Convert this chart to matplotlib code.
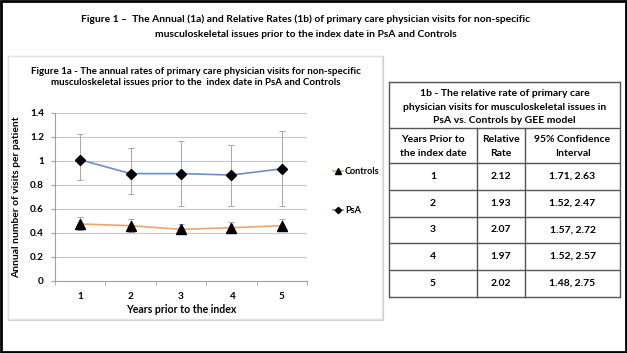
import matplotlib
matplotlib.use("Agg")
import matplotlib.pyplot as plt
from matplotlib.patches import Rectangle

plt.rcParams['font.family'] = ['Lato', 'DejaVu Sans']

# ---- data ----
years = [1, 2, 3, 4, 5]
psa = [1.01, 0.895, 0.895, 0.883, 0.935]
psa_hi = [1.225, 1.108, 1.163, 1.130, 1.252]
psa_lo = [0.840, 0.725, 0.625, 0.625, 0.628]
ctrl = [0.475, 0.461, 0.430, 0.444, 0.461]
ctrl_hi = [0.531, 0.520, 0.478, 0.494, 0.517]
ctrl_lo = [0.427, 0.405, 0.388, 0.397, 0.416]
yticks = [0, 0.2, 0.4, 0.6, 0.8, 1.0, 1.2, 1.4]
ytick_labels = ['0', '0.2', '0.4', '0.6', '0.8', '1', '1.2', '1.4']

tbl_years = ['1', '2', '3', '4', '5']
tbl_rr = ['2.12', '1.93', '2.07', '1.97', '2.02']
tbl_ci = ['1.71, 2.63', '1.52, 2.47', '1.57, 2.72', '1.52, 2.57', '1.48, 2.75']

main_title = ("Figure 1 \u2013  The Annual (1a) and Relative Rates (1b) of primary care physician visits for non-specific\n"
              "musculoskeletal issues prior to the index date in PsA and Controls")
panel_title = ("Figure 1a - The annual rates of primary care physician visits for non-specific\n"
               "musculoskeletal issues prior to the  index date in PsA and Controls")
tbl_title = ["1b - The relative rate of primary care",
             "physician visits for musculoskeletal issues in",
             "PsA vs. Controls by GEE model"]
tbl_head = [["Years Prior to", "the index date"], ["Relative", "Rate"], ["95% Confidence", "Interval"]]

W, H = 627, 353
fig = plt.figure(figsize=(W / 100, H / 100), dpi=100)
fig.patch.set_facecolor('white')

# overlay in pixel coordinates
ov = fig.add_axes([0, 0, 1, 1], zorder=0)
ov.set_xlim(0, W)
ov.set_ylim(H, 0)
ov.axis('off')

# outer black border
ov.add_patch(Rectangle((1, 1), W - 2, H - 2, fill=False, ec='black', lw=2))
# chart panel
ov.add_patch(Rectangle((9, 57), 374, 263, fill=False, ec='#cfcfcf', lw=1.6))
ov.add_patch(Rectangle((8, 56), 374, 263, fill=True, fc='white', ec='#e2e2e2', lw=1))

ov.text(306, 27, main_title, ha='center', va='center', fontsize=7.4, fontweight='bold',
        linespacing=1.8)
ov.text(196, 77, panel_title, ha='center', va='center', fontsize=7.0, fontweight='bold',
        linespacing=1.35)

# table
tx0, tx1 = 389, 620
cx = [389, 477, 525, 620]
hy = [82, 128, 163, 190, 217, 243, 270, 297]
lc = '#555555'
for y in hy:
    ov.plot([tx0, tx1], [y, y], color=lc, lw=1.0, solid_capstyle='butt')
ov.plot([tx0, tx0], [hy[0], hy[-1]], color=lc, lw=1.0)
ov.plot([tx1, tx1], [hy[0], hy[-1]], color=lc, lw=1.0)
for x in cx[1:3]:
    ov.plot([x, x], [hy[1], hy[-1]], color=lc, lw=1.0)

tfs = 7.5
tmid = (tx0 + tx1) / 2
for i, line in enumerate(tbl_title):
    ov.text(tmid, 93.5 + i * 13.5, line, ha='center', va='center', fontsize=tfs, fontweight='bold')
ccent = [(cx[i] + cx[i + 1]) / 2 for i in range(3)]
for c, lines in zip(ccent, tbl_head):
    ov.text(c, 139, lines[0], ha='center', va='center', fontsize=tfs, fontweight='bold')
    ov.text(c, 153, lines[1], ha='center', va='center', fontsize=tfs, fontweight='bold')
for r in range(5):
    yc = (hy[r + 2] + hy[r + 3]) / 2
    for c, val in zip(ccent, [tbl_years[r], tbl_rr[r], tbl_ci[r]]):
        ov.text(c, yc, val, ha='center', va='center', fontsize=tfs, fontweight='bold')

# main chart axes
ax_l, ax_r, ax_t, ax_b = 55, 307, 113, 281
ax = fig.add_axes([ax_l / W, 1 - ax_b / H, (ax_r - ax_l) / W, (ax_b - ax_t) / H], zorder=2)
ax.set_facecolor('none')

ecol = '#a6a6a6'
ax.errorbar(years, psa,
            yerr=[[p - l for p, l in zip(psa, psa_lo)], [h - p for p, h in zip(psa, psa_hi)]],
            fmt='none', ecolor=ecol, elinewidth=0.7, capsize=2, capthick=0.7, zorder=2)
ax.errorbar(years, ctrl,
            yerr=[[p - l for p, l in zip(ctrl, ctrl_lo)], [h - p for p, h in zip(ctrl, ctrl_hi)]],
            fmt='none', ecolor=ecol, elinewidth=0.7, capsize=2, capthick=0.7, zorder=2)
l_ctrl, = ax.plot(years, ctrl, color='#f0a467', lw=1.2, marker='^', ms=6.5, mfc='black', mec='black',
                  zorder=3, label='Controls')
l_psa, = ax.plot(years, psa, color='#6b8ec6', lw=1.2, marker='D', ms=5.3, mfc='black', mec='black',
                 zorder=3, label='PsA')

ax.set_xlim(0.5, 5.5)
ax.set_ylim(0, 1.4)
ax.set_yticks(yticks)
ax.set_yticklabels(ytick_labels)
ax.set_xticks(years)
ax.set_xticks([0.5, 1.5, 2.5, 3.5, 4.5, 5.5], minor=True)
ax.tick_params(axis='x', which='major', length=0, pad=8, labelsize=7.2)
ax.tick_params(axis='x', which='minor', length=3, color='#a0a0a0', direction='out')
ax.tick_params(axis='y', length=3, color='#a0a0a0', labelsize=7.2, pad=5)
for lab in ax.get_xticklabels() + ax.get_yticklabels():
    lab.set_fontweight('bold')
ax.grid(axis='y', color='#c8c8c8', lw=0.8)
ax.set_axisbelow(True)
for s in ['top', 'right']:
    ax.spines[s].set_visible(False)
ax.spines['left'].set_color('#a0a0a0')
ax.spines['bottom'].set_color('#a0a0a0')
ax.spines['left'].set_linewidth(0.8)
ax.spines['bottom'].set_linewidth(0.8)
ax.set_xlabel('Years prior to the index', fontsize=7.6, fontweight='bold', labelpad=2)
ax.set_ylabel('Annual number of visits per patient', fontsize=7.4, fontweight='bold', labelpad=6)

leg = ax.legend(handles=[l_ctrl, l_psa], loc='upper left', bbox_to_anchor=(1.07, 0.725),
                frameon=False, fontsize=6.6, labelspacing=3.2, handlelength=1.1,
                handletextpad=0.2, markerscale=0.6)
for t in leg.get_texts():
    t.set_fontweight('bold')

fig.savefig('out.png', dpi=100)
